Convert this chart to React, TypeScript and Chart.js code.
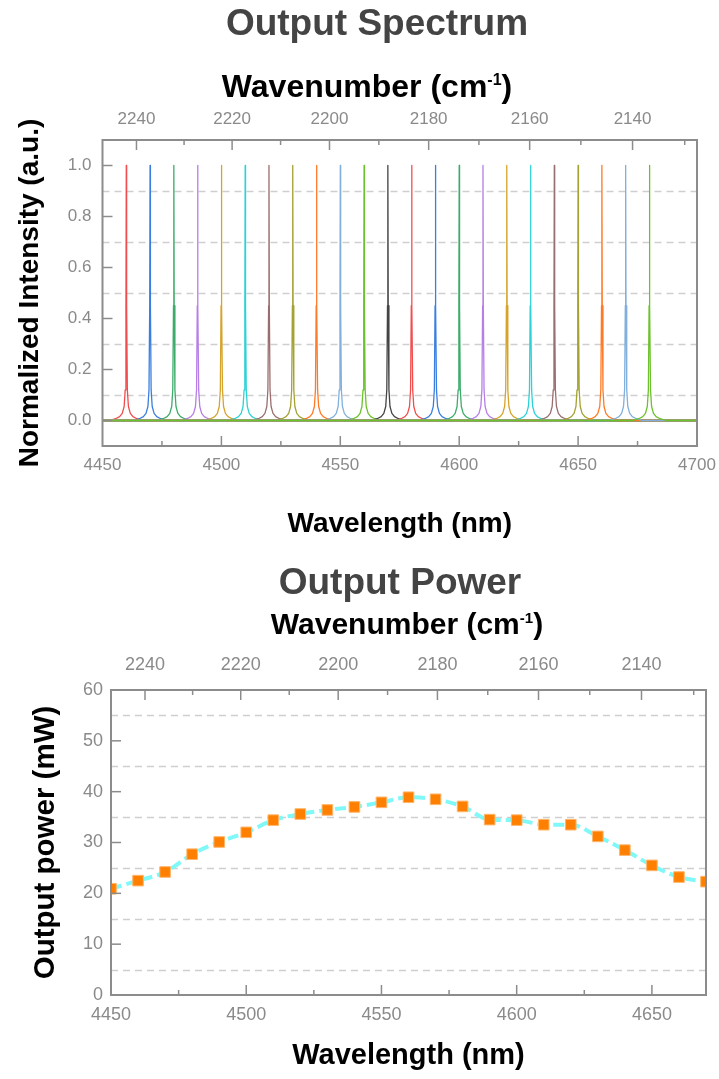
import React, { useEffect, useRef } from "react";
import { Chart, registerables } from "chart.js";

Chart.register(...registerables);

// ---------- Data: Output Spectrum ----------
const PEAK_CENTERS = [
  4460, 4470, 4480, 4490, 4500, 4510, 4520, 4530, 4540, 4550, 4560, 4570,
  4580, 4590, 4600, 4610, 4620, 4630, 4640, 4650, 4660, 4670, 4680,
];
const PEAK_COLORS = [
  "#f24d4d", "#3a7fe0", "#3dac6a", "#b67ee6", "#d6a42c", "#2dd2d6",
  "#9a6e6e", "#a3a233", "#ff7a26", "#82b0dc", "#6cc22c", "#444444",
];
// peak line shape (offset in nm, normalized intensity)
const PROFILE_OFFSETS = [-7, -4.5, -2.8, -1.7, -0.9, -0.45, -0.15, 0, 0.15, 0.45, 0.9, 1.7, 2.8, 4.5, 7];
const PROFILE_VALUES = [0, 0.007, 0.015, 0.028, 0.055, 0.12, 0.45, 1, 0.45, 0.12, 0.055, 0.028, 0.015, 0.007, 0];

const SPEC_X_MIN = 4450;
const SPEC_X_MAX = 4700;
const SPEC_Y_MIN = -0.1;
const SPEC_Y_MAX = 1.1;
const SPEC_X_TICKS = [4450, 4500, 4550, 4600, 4650, 4700];
const SPEC_X_MINOR = [4475, 4525, 4575, 4625, 4675];
const WAVENUMBER_TICKS = [2240, 2220, 2200, 2180, 2160, 2140];
const WAVENUMBER_MINOR = [2230, 2210, 2190, 2170, 2150, 2130];
const SPEC_Y_TICKS = [0, 0.2, 0.4, 0.6, 0.8, 1.0];
const SPEC_Y_GRID = [0.1, 0.3, 0.5, 0.7, 0.9];

// ---------- Data: Output Power ----------
const POWER_WAVELENGTHS = [
  4450, 4460, 4470, 4480, 4490, 4500, 4510, 4520, 4530, 4540, 4550, 4560,
  4570, 4580, 4590, 4600, 4610, 4620, 4630, 4640, 4650, 4660, 4670,
];
const POWER_VALUES = [
  20.9, 22.5, 24.2, 27.7, 30.1, 32.0, 34.4, 35.6, 36.4, 37.0, 37.9, 38.9,
  38.5, 37.1, 34.5, 34.4, 33.5, 33.5, 31.2, 28.5, 25.5, 23.2, 22.3,
];
const POWER_X_MIN = 4450;
const POWER_X_MAX = 4670;
const POWER_X_TICKS = [4450, 4500, 4550, 4600, 4650];
const POWER_X_MINOR = [4475, 4525, 4575, 4625];
const POWER_Y_TICKS = [0, 10, 20, 30, 40, 50, 60];
const POWER_Y_GRID = [5, 15, 25, 35, 45, 55];

const SANS = "'Liberation Sans', Arial, Helvetica, sans-serif";
const TICK_COLOR = "#8a8a8a";
const FRAME_COLOR = "#8c8c8c";

type FrameCfg = {
  id: string;
  yGrid: number[];
  yTicks: number[];
  xMajor: number[];
  xMinor: number[];
  topMajor: number[];
  topMinor: number[];
};

function framePlugin(cfg: FrameCfg) {
  return {
    id: cfg.id,
    beforeDatasetsDraw(chart: any) {
      const { ctx, chartArea } = chart;
      const y = chart.scales.y;
      ctx.save();
      ctx.strokeStyle = "#cfcfcf";
      ctx.lineWidth = 1.5;
      ctx.setLineDash([7, 5]);
      cfg.yGrid.forEach((v) => {
        const py = Math.round(y.getPixelForValue(v)) + 0.5;
        ctx.beginPath();
        ctx.moveTo(chartArea.left, py);
        ctx.lineTo(chartArea.right, py);
        ctx.stroke();
      });
      ctx.restore();
    },
    afterDatasetsDraw(chart: any) {
      const { ctx, chartArea } = chart;
      const { left, right, top, bottom } = chartArea;
      const x = chart.scales.x;
      const x2 = chart.scales.x2;
      const y = chart.scales.y;
      ctx.save();
      ctx.strokeStyle = FRAME_COLOR;
      ctx.lineWidth = 2;
      ctx.setLineDash([]);
      ctx.strokeRect(left, top, right - left, bottom - top);
      ctx.lineWidth = 1.5;
      const line = (x0: number, y0: number, x1: number, y1: number) => {
        ctx.beginPath();
        ctx.moveTo(x0, y0);
        ctx.lineTo(x1, y1);
        ctx.stroke();
      };
      cfg.yTicks.forEach((v) => {
        const py = y.getPixelForValue(v);
        line(left, py, left + 10, py);
      });
      cfg.xMajor.forEach((v) => {
        const px = x.getPixelForValue(v);
        if (px > left + 1 && px < right - 1) line(px, bottom, px, bottom - 10);
      });
      cfg.xMinor.forEach((v) => {
        const px = x.getPixelForValue(v);
        if (px > left + 1 && px < right - 1) line(px, bottom, px, bottom - 5);
      });
      cfg.topMajor.forEach((n) => {
        const px = x2.getPixelForValue(1e7 / n);
        line(px, top, px, top + 10);
      });
      cfg.topMinor.forEach((n) => {
        const px = x2.getPixelForValue(1e7 / n);
        if (px > left + 1 && px < right - 1) line(px, top, px, top + 5);
      });
      ctx.restore();
    },
  };
}

const noSidePadding = (s: any) => {
  s.paddingLeft = 0;
  s.paddingRight = 0;
};

function Overlay(props: { text: React.ReactNode; cx: number; cy: number; size: number; color: string }) {
  const lh = Math.round(props.size * 1.2);
  return (
    <div
      style={{
        position: "absolute",
        left: props.cx - 300,
        width: 600,
        top: props.cy - lh / 2,
        height: lh,
        lineHeight: `${lh}px`,
        textAlign: "center",
        fontFamily: SANS,
        fontWeight: "bold",
        fontSize: props.size,
        color: props.color,
        whiteSpace: "nowrap",
        pointerEvents: "none",
      }}
    >
      {props.text}
    </div>
  );
}

const Wavenumber = () => (
  <span>
    Wavenumber (cm
    <span style={{ fontSize: "0.5em", position: "relative", top: "-0.75em" }}>-1</span>)
  </span>
);

function SpectrumChart() {
  const ref = useRef<HTMLCanvasElement | null>(null);
  useEffect(() => {
    if (!ref.current) return;
    const datasets = PEAK_CENTERS.map((c, i) => {
      const pts = [{ x: SPEC_X_MIN, y: 0 }];
      PROFILE_OFFSETS.forEach((o, k) => pts.push({ x: c + o, y: PROFILE_VALUES[k] }));
      pts.push({ x: SPEC_X_MAX, y: 0 });
      return {
        label: `${c} nm`,
        data: pts,
        borderColor: PEAK_COLORS[i % PEAK_COLORS.length],
        borderWidth: 1.3,
        borderJoinStyle: "round",
        pointRadius: 0,
        tension: 0,
        fill: false,
        order: PEAK_CENTERS.length - i,
      };
    });
    const chart = new Chart(ref.current, {
      type: "line",
      data: { datasets },
      options: {
        animation: false,
        responsive: false,
        devicePixelRatio: 1,
        layout: { padding: { left: 0, right: 22, top: 0, bottom: 0 } },
        plugins: {
          legend: { display: false },
          tooltip: { enabled: false },
          title: { display: false },
        },
        scales: {
          x: {
            type: "linear",
            position: "bottom",
            min: SPEC_X_MIN,
            max: SPEC_X_MAX,
            afterBuildTicks: (s: any) => {
              s.ticks = SPEC_X_TICKS.map((v) => ({ value: v }));
            },
            afterFit: (s: any) => {
              s.height = 99;
              noSidePadding(s);
            },
            grid: { display: false, drawTicks: false },
            border: { display: false },
            ticks: {
              color: TICK_COLOR,
              font: { family: SANS, size: 17 },
              padding: 9,
              maxRotation: 0,
              autoSkip: false,
              callback: (v: any) => String(v),
            },
            title: {
              display: true,
              text: "Wavelength (nm)",
              color: "#000",
              font: { family: SANS, size: 28, weight: "bold", lineHeight: 1.2 },
              padding: { top: 0, bottom: 4 },
            },
          },
          x2: {
            type: "linear",
            position: "top",
            min: SPEC_X_MIN,
            max: SPEC_X_MAX,
            afterBuildTicks: (s: any) => {
              s.ticks = WAVENUMBER_TICKS.map((n) => ({ value: 1e7 / n }));
            },
            afterFit: (s: any) => {
              s.height = 140;
              noSidePadding(s);
            },
            grid: { display: false, drawTicks: false },
            border: { display: false },
            ticks: {
              color: TICK_COLOR,
              font: { family: SANS, size: 17 },
              padding: 10,
              maxRotation: 0,
              autoSkip: false,
              callback: (_v: any, i: number) => String(WAVENUMBER_TICKS[i]),
            },
            title: { display: false },
          },
          y: {
            type: "linear",
            min: SPEC_Y_MIN,
            max: SPEC_Y_MAX,
            afterBuildTicks: (s: any) => {
              s.ticks = SPEC_Y_TICKS.map((v) => ({ value: v }));
            },
            afterFit: (s: any) => {
              s.width = 102.5;
            },
            grid: { display: false, drawTicks: false },
            border: { display: false },
            ticks: {
              color: TICK_COLOR,
              font: { family: SANS, size: 17 },
              padding: 11,
              callback: (v: any) => Number(v).toFixed(1),
            },
            title: {
              display: true,
              text: "Normalized Intensity (a.u.)",
              color: "#000",
              font: { family: SANS, size: 28, weight: "bold", lineHeight: 1.2 },
              padding: { top: 13, bottom: 0 },
            },
          },
        },
      } as any,
      plugins: [
        framePlugin({
          id: "specFrame",
          yGrid: SPEC_Y_GRID,
          yTicks: SPEC_Y_TICKS,
          xMajor: SPEC_X_TICKS,
          xMinor: SPEC_X_MINOR,
          topMajor: WAVENUMBER_TICKS,
          topMinor: WAVENUMBER_MINOR,
        }),
      ],
    });
    return () => chart.destroy();
  }, []);
  return (
    <div style={{ position: "relative", width: 719, height: 545 }}>
      <canvas ref={ref} width={719} height={545} style={{ display: "block", width: 719, height: 545 }} />
      <Overlay text="Output Spectrum" cx={377} cy={23} size={37} color="#444444" />
      <Overlay text={<Wavenumber />} cx={367} cy={86} size={32} color="#000000" />
    </div>
  );
}

function PowerChart() {
  const ref = useRef<HTMLCanvasElement | null>(null);
  useEffect(() => {
    if (!ref.current) return;
    const chart = new Chart(ref.current, {
      type: "line",
      data: {
        datasets: [
          {
            label: "Output power",
            data: POWER_WAVELENGTHS.map((w, i) => ({ x: w, y: POWER_VALUES[i] })),
            borderColor: "#80f8f8",
            borderWidth: 4,
            borderDash: [11, 5],
            tension: 0.4,
            cubicInterpolationMode: "monotone",
            pointStyle: "rect",
            pointRadius: 7.5,
            pointBackgroundColor: "#ff8000",
            pointBorderColor: "#ffb56a",
            pointBorderWidth: 1,
            fill: false,
          },
        ],
      },
      options: {
        animation: false,
        responsive: false,
        devicePixelRatio: 1,
        layout: { padding: { left: 0, right: 13, top: 0, bottom: 0 } },
        plugins: {
          legend: { display: false },
          tooltip: { enabled: false },
          title: { display: false },
        },
        scales: {
          x: {
            type: "linear",
            position: "bottom",
            min: POWER_X_MIN,
            max: POWER_X_MAX,
            afterBuildTicks: (s: any) => {
              s.ticks = POWER_X_TICKS.map((v) => ({ value: v }));
            },
            afterFit: (s: any) => {
              s.height = 84;
              noSidePadding(s);
            },
            grid: { display: false, drawTicks: false },
            border: { display: false },
            ticks: {
              color: TICK_COLOR,
              font: { family: SANS, size: 18 },
              padding: 9,
              maxRotation: 0,
              autoSkip: false,
              callback: (v: any) => String(v),
            },
            title: {
              display: true,
              text: "Wavelength (nm)",
              color: "#000",
              font: { family: SANS, size: 29, weight: "bold", lineHeight: 1.2 },
              padding: { top: 0, bottom: 6 },
            },
          },
          x2: {
            type: "linear",
            position: "top",
            min: SPEC_X_MIN,
            max: SPEC_X_MAX,
            afterBuildTicks: (s: any) => {
              s.ticks = WAVENUMBER_TICKS.map((n) => ({ value: 1e7 / n }));
            },
            afterFit: (s: any) => {
              s.height = 145;
              noSidePadding(s);
            },
            grid: { display: false, drawTicks: false },
            border: { display: false },
            ticks: {
              color: TICK_COLOR,
              font: { family: SANS, size: 18 },
              padding: 14,
              maxRotation: 0,
              autoSkip: false,
              callback: (_v: any, i: number) => String(WAVENUMBER_TICKS[i]),
            },
            title: { display: false },
          },
          y: {
            type: "linear",
            min: 0,
            max: 60,
            afterBuildTicks: (s: any) => {
              s.ticks = POWER_Y_TICKS.map((v) => ({ value: v }));
            },
            afterFit: (s: any) => {
              s.width = 111;
            },
            grid: { display: false, drawTicks: false },
            border: { display: false },
            ticks: {
              color: TICK_COLOR,
              font: { family: SANS, size: 18 },
              padding: 8,
              callback: (v: any) => String(v),
            },
            title: {
              display: true,
              text: "Output power (mW)",
              color: "#000",
              font: { family: SANS, size: 29.5, weight: "bold", lineHeight: 1.2 },
              padding: { top: 28, bottom: 0 },
            },
          },
        },
      } as any,
      plugins: [
        framePlugin({
          id: "powerFrame",
          yGrid: POWER_Y_GRID,
          yTicks: POWER_Y_TICKS,
          xMajor: POWER_X_TICKS,
          xMinor: POWER_X_MINOR,
          topMajor: WAVENUMBER_TICKS,
          topMinor: WAVENUMBER_MINOR,
        }),
      ],
    });
    return () => chart.destroy();
  }, []);
  return (
    <div style={{ position: "relative", width: 719, height: 534 }}>
      <canvas ref={ref} width={719} height={534} style={{ display: "block", width: 719, height: 534 }} />
      <Overlay text="Output Power" cx={400} cy={37} size={37} color="#444444" />
      <Overlay text={<Wavenumber />} cx={407} cy={79} size={30} color="#000000" />
    </div>
  );
}

export default function App() {
  useEffect(() => {
    document.body.style.margin = "0";
    document.body.style.background = "#ffffff";
  }, []);
  return (
    <div style={{ width: 719, height: 1079, background: "#fff", overflow: "hidden" }}>
      <SpectrumChart />
      <PowerChart />
    </div>
  );
}
